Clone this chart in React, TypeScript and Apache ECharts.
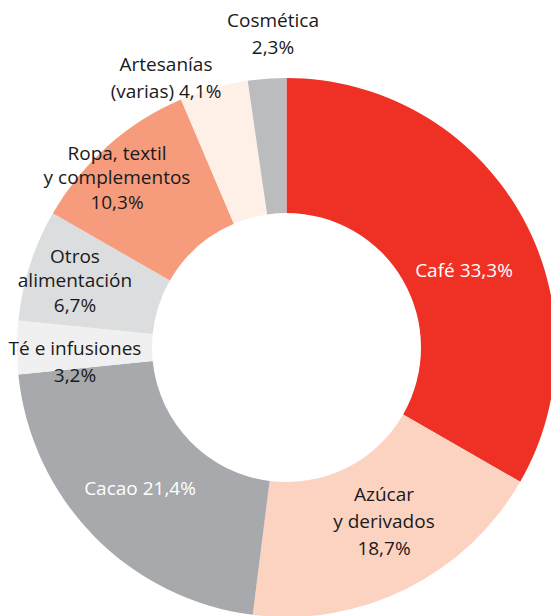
import React, { useEffect, useRef } from "react";
import * as echarts from "echarts";

const categories = [
  "Café",
  "Azúcar\ny derivados",
  "Cacao",
  "Té e infusiones",
  "Otros\nalimentación",
  "Ropa, textil\ny complementos",
  "Artesanías\n(varias)",
  "Cosmética",
];
const shares = [33.3, 18.7, 21.4, 3.2, 6.7, 10.3, 4.1, 2.3];
const sliceColors = ["#EE3124", "#FCD3C1", "#A7A9AC", "#F0F0F0", "#DCDDDE", "#F69C7D", "#FEF0E7", "#BBBCBE"];
const valueSeparators = [" ", "\n", " ", "\n", "\n", "\n", " ", "\n"];
const labelColors = ["#ffffff", "#1a1a1a", "#ffffff", "#1a1a1a", "#1a1a1a", "#1a1a1a", "#1a1a1a", "#1a1a1a"];
const labelCenters = [
  [464, 270],
  [384, 521],
  [140, 488],
  [75, 361],
  [75, 280],
  [117, 177],
  [166, 77],
  [273, 33],
];
const labelLineHeights = [26, 27, 26, 27, 24.5, 24.5, 27, 27];

const fmt = (v: number) => v.toFixed(1).replace(".", ",") + "%";

export default function App() {
  const ref = useRef<HTMLDivElement>(null);
  useEffect(() => {
    if (!ref.current) return;
    const chart = echarts.init(ref.current, undefined, { renderer: "svg" });
    const data = categories.map((name, i) => ({
      name,
      value: shares[i],
      itemStyle: { color: sliceColors[i] },
      label: { color: labelColors[i], lineHeight: labelLineHeights[i] },
    }));
    chart.setOption({
      animation: false,
      series: [
        {
          type: "pie",
          center: [286.5, 347.5],
          radius: [134.5, 269.5],
          startAngle: 90,
          clockwise: true,
          avoidLabelOverlap: false,
          itemStyle: { borderWidth: 0 },
          emphasis: { disabled: true },
          label: {
            show: true,
            position: "inside",
            fontFamily: "Open Sans",
            fontSize: 19,
            align: "center",
            formatter: (p: any) => p.name + valueSeparators[p.dataIndex] + fmt(p.value),
          },
          labelLine: { show: false },
          labelLayout: (params: any) => {
            const c = labelCenters[params.dataIndex];
            return { x: c[0], y: c[1], align: "center", verticalAlign: "middle" };
          },
          data,
        },
      ],
    });
    return () => chart.dispose();
  }, []);
  return (
    <div
      ref={ref}
      style={{ position: "absolute", left: 0, top: 0, width: 551, height: 616 }}
    />
  );
}
